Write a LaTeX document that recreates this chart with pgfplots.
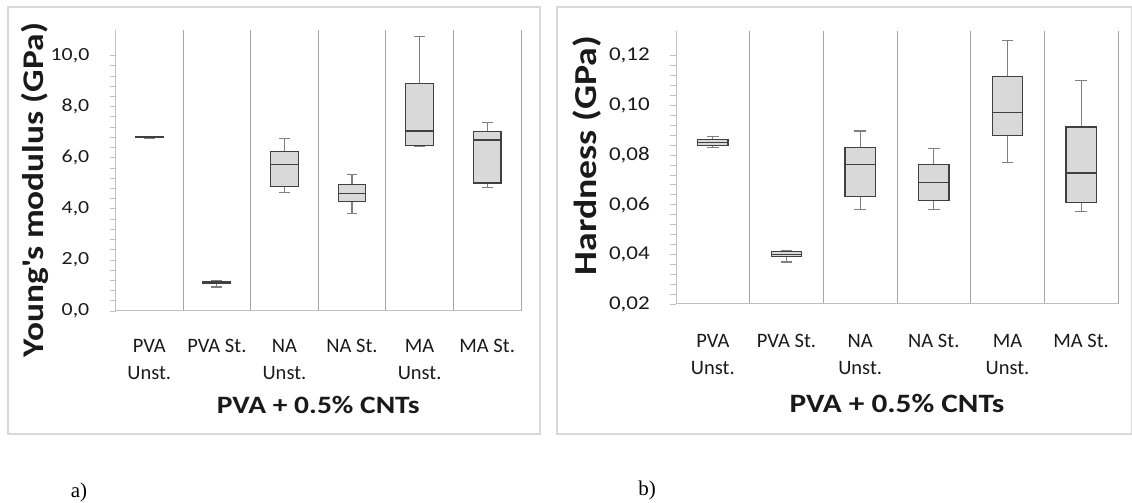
\documentclass[border=0pt]{standalone}
\usepackage{pgfplots}
\pgfplotsset{compat=1.18}
\usepgfplotslibrary{statistics}
\usepackage{fontspec}
\setmainfont{Carlito}
\newfontfamily\wide[FakeStretch=1.18]{Carlito}
\newfontfamily\serif{Liberation Serif}
\definecolor{boxfill}{HTML}{D9D9D9}
\definecolor{boxdraw}{HTML}{404040}
\definecolor{whiskc}{HTML}{808080}
\definecolor{gridc}{HTML}{A6A6A6}
\definecolor{axisc}{HTML}{BFBFBF}
\definecolor{framec}{HTML}{D9D9D9}
\definecolor{txt}{HTML}{1A1A1A}
\pgfplotsset{
  basestyle/.style={
    scale only axis, anchor=south west,
    xmin=-0.5, xmax=5.5,
    xtick={0,1,2,3,4,5},
    xticklabels={{PVA\\Unst.},{PVA St.},{NA\\Unst.},{NA St.},{MA\\Unst.},{MA St.}},
    minor xtick={0.5,1.5,2.5,3.5,4.5,5.5},
    xminorgrids=true,
    minor x grid style={gridc, line width=1pt},
    xtick style={draw=none},
    minor x tick style={draw=none},
    axis x line*=bottom, axis y line*=left,
    axis line style={axisc, line width=1pt, -},
    ytick style={axisc, line width=0.8pt},
    minor y tick style={axisc, line width=0.8pt},
    tick align=outside,
    major tick length=6pt, minor tick length=6pt,
    minor y tick num=4,
    scaled y ticks=false,
    xticklabel style={font=\fontsize{20.5}{27}\selectfont, text=txt, align=center, anchor=north, inner sep=0pt},
    yticklabel style={text=txt, anchor=east, inner sep=0pt, xshift=-20pt},
    /pgf/number format/assume math mode=true,
    xlabel style={text=txt, anchor=center},
    ylabel style={text=txt, anchor=center, rotate=0},
  },
  bx/.style={draw=boxdraw, fill=boxfill, line width=1.2pt,
    boxplot/draw direction=y,
    boxplot/box extend=0.41, boxplot/whisker extend=0.16,
    boxplot/every whisker/.style={draw=whiskc, line width=1.2pt},
    boxplot/every median/.style={draw=boxdraw, line width=1.2pt}},
}
\begin{document}
\begin{tikzpicture}
\useasboundingbox (0,0) rectangle (1132pt,503pt);
\draw[framec, line width=1.5pt] (8pt,496pt) rectangle (540pt,69pt);
\draw[framec, line width=1.5pt] (557pt,496pt) rectangle (1132pt,69pt);
\node[font=\serif\fontsize{21}{24}\selectfont] at (79pt,11pt) {a)};
\node[font=\serif\fontsize{21}{24}\selectfont] at (647pt,13pt) {b)};
% ---------- left: Young's modulus
\begin{axis}[basestyle,
  at={(115.5pt,192pt)}, width=405.5pt, height=281pt,
  ymin=0, ymax=11,
  ytick={0,2,4,6,8,10},
  yticklabel style={font=\wide\fontsize{18.5}{22}\selectfont, /pgf/number format/.cd, fixed, fixed zerofill, precision=1, use comma},
  xticklabel style={yshift=-22pt},
  xlabel={PVA + 0.5\% CNTs},
  xlabel style={font=\wide\fontsize{25}{30}\selectfont\bfseries, at={(axis description cs:0.5,-0.3345)}},
  ylabel={Young\textquotesingle s modulus (GPa)},
  ylabel style={font=\wide\fontsize{30}{36}\selectfont\bfseries, at={(axis description cs:-0.1985,0.43)}},
]
\addplot[bx, boxplot prepared={lower whisker=6.74, lower quartile=6.78, median=6.79, upper quartile=6.81, upper whisker=6.82, draw position=0}] coordinates {};
\addplot[bx, boxplot prepared={lower whisker=0.94, lower quartile=1.08, median=1.13, upper quartile=1.17, upper whisker=1.19, draw position=1}] coordinates {};
\addplot[bx, boxplot prepared={lower whisker=4.63, lower quartile=4.88, median=5.72, upper quartile=6.23, upper whisker=6.76, draw position=2}] coordinates {};
\addplot[bx, boxplot prepared={lower whisker=3.83, lower quartile=4.28, median=4.59, upper quartile=4.95, upper whisker=5.34, draw position=3}] coordinates {};
\addplot[bx, boxplot prepared={lower whisker=6.46, lower quartile=6.48, median=7.05, upper quartile=8.90, upper whisker=10.76, draw position=4}] coordinates {};
\addplot[bx, boxplot prepared={lower whisker=4.83, lower quartile=5.01, median=6.69, upper quartile=7.03, upper whisker=7.39, draw position=5}] coordinates {};
\end{axis}
% ---------- right: Hardness
\begin{axis}[basestyle,
  at={(676pt,199pt)}, width=442pt, height=273pt,
  ymin=0.02, ymax=0.13,
  ytick={0.02,0.04,0.06,0.08,0.10,0.12},
  yticklabel style={font=\wide\fontsize{19.5}{22}\selectfont, /pgf/number format/.cd, fixed, fixed zerofill, precision=2, use comma},
  xticklabel style={yshift=-24pt},
  xlabel={PVA + 0.5\% CNTs},
  xlabel style={font=\wide\fontsize{26.5}{30}\selectfont\bfseries, at={(axis description cs:0.5,-0.3626)}},
  ylabel={Hardness (GPa)},
  ylabel style={font=\wide\fontsize{32}{36}\selectfont\bfseries, at={(axis description cs:-0.2014,0.544)}},
]
\addplot[bx, boxplot prepared={lower whisker=0.0830, lower quartile=0.0840, median=0.0850, upper quartile=0.0862, upper whisker=0.0875, draw position=0}] coordinates {};
\addplot[bx, boxplot prepared={lower whisker=0.0369, lower quartile=0.0391, median=0.0400, upper quartile=0.0412, upper whisker=0.0415, draw position=1}] coordinates {};
\addplot[bx, boxplot prepared={lower whisker=0.0581, lower quartile=0.0632, median=0.0763, upper quartile=0.0832, upper whisker=0.0897, draw position=2}] coordinates {};
\addplot[bx, boxplot prepared={lower whisker=0.0581, lower quartile=0.0616, median=0.0688, upper quartile=0.0761, upper whisker=0.0826, draw position=3}] coordinates {};
\addplot[bx, boxplot prepared={lower whisker=0.0771, lower quartile=0.0879, median=0.0972, upper quartile=0.1118, upper whisker=0.1262, draw position=4}] coordinates {};
\addplot[bx, boxplot prepared={lower whisker=0.0573, lower quartile=0.0609, median=0.0728, upper quartile=0.0913, upper whisker=0.1100, draw position=5}] coordinates {};
\end{axis}
\end{tikzpicture}
\end{document}
